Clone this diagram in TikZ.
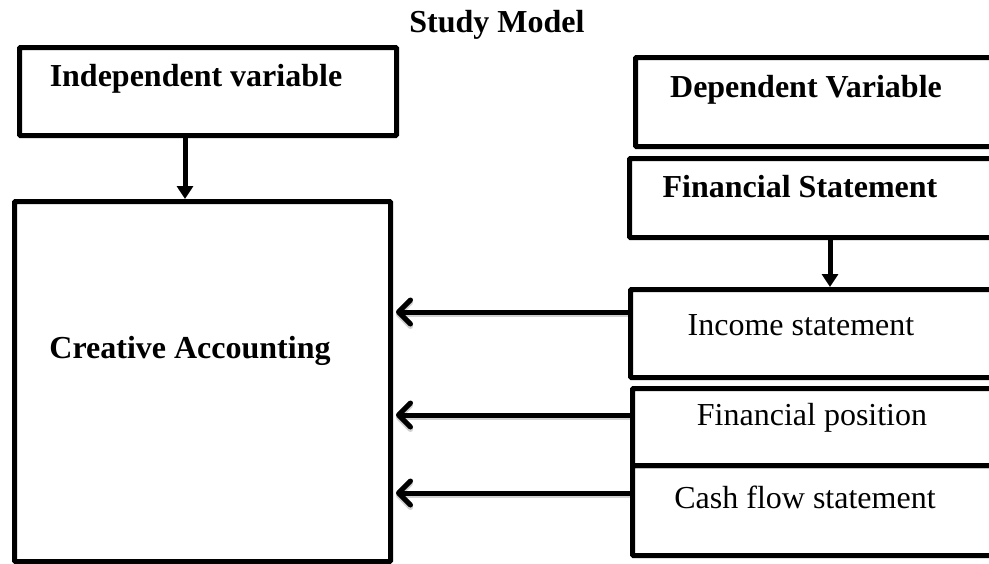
\documentclass[tikz,border=0pt]{standalone}
\usepackage{fontspec}
\setmainfont{Liberation Serif}
\usetikzlibrary{arrows.meta}
\begin{document}
\begin{tikzpicture}[x=1pt,y=-1pt,
  box/.style={draw=black, line width=5pt, rounded corners=1pt, rectangle, inner sep=0pt, fill=none},
  boldtxt/.style={font=\fontsize{32}{38}\selectfont\bfseries, anchor=base, inner sep=0pt},
  plaintxt/.style={font=\fontsize{32}{38}\selectfont, anchor=base, inner sep=0pt},
  downarrow/.style={line width=5pt, -{Triangle[length=13pt,width=16pt]}},
  leftarrow/.style={line width=5pt, line cap=round, -{Straight Barb[length=12pt,width=24pt,line width=5pt,round]}},
  shadowed/.style={preaction={draw=black!18, line width=4pt, transform canvas={yshift=-2.5pt}}}
]
\useasboundingbox (0,0) rectangle (989,563);
\clip (0,0) rectangle (989,563);
% boxes
\node[box, minimum width=377pt, minimum height=88pt, anchor=north west] (indep) at (17,45) {};
\node[box, minimum width=376pt, minimum height=360pt, anchor=north west] (creative) at (12,199) {};
\node[box, minimum width=380pt, minimum height=89pt, anchor=north west] (dep) at (633,55) {};
\node[box, minimum width=386pt, minimum height=79pt, anchor=north west] (finstat) at (627,156) {};
\node[box, minimum width=385pt, minimum height=88pt, anchor=north west] (income) at (628,287) {};
\node[box, minimum width=383pt, minimum height=77pt, anchor=north west] (finpos) at (630,386) {};
\node[box, minimum width=383pt, minimum height=90pt, anchor=north west] (cash) at (630,463) {};
% texts
\node[boldtxt] (title) at (497,32) {Study Model};
\node[boldtxt] (indeplbl) at (196,86) {Independent variable};
\node[boldtxt] (creativelbl) at (190,358) {Creative Accounting};
\node[boldtxt] (deplbl) at (806,97) {Dependent Variable};
\node[boldtxt] (finstatlbl) at (800,197) {Financial Statement};
\node[plaintxt] (incomelbl) at (801,335) {Income statement};
\node[plaintxt] (finposlbl) at (812,425) {Financial position};
\node[plaintxt] (cashlbl) at (805,508) {Cash flow statement};
% connector guide coordinates
\coordinate (ax1) at (185,0);
\coordinate (ax2) at (830,0);
\coordinate (ay1) at (0,312);
\coordinate (ay2) at (0,415);
\coordinate (ay3) at (0,493);
% arrows
\draw[downarrow] (indep.south -| ax1) -- (creative.north -| ax1);
\draw[downarrow] (finstat.south -| ax2) -- (income.north -| ax2);
\draw[leftarrow, shadowed] (income.west |- ay1) -- ([xshift=3pt]creative.east |- ay1);
\draw[leftarrow, shadowed] (finpos.west |- ay2) -- ([xshift=3pt]creative.east |- ay2);
\draw[leftarrow, shadowed] (cash.west |- ay3) -- ([xshift=3pt]creative.east |- ay3);
\end{tikzpicture}
\end{document}
